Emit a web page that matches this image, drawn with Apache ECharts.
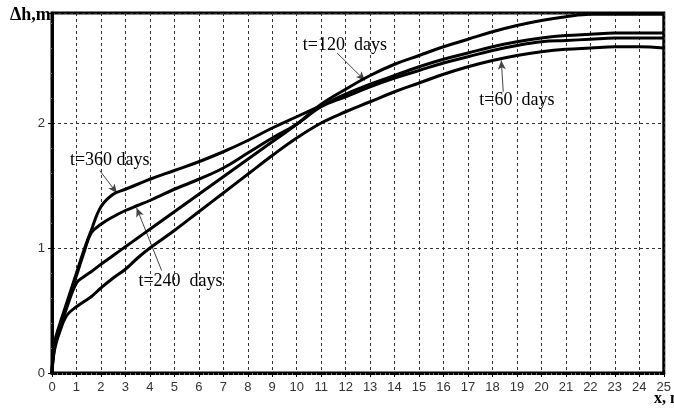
<!DOCTYPE html>
<html>
<head>
<meta charset="utf-8">
<script src="https://cdn.jsdelivr.net/npm/echarts@6/dist/echarts.min.js"></script>
<style>
html,body{margin:0;padding:0;background:#fff;}
#chart{width:674px;height:408px;}
</style>
</head>
<body>
<div id="chart"></div>
<script>
// distance along x (m)
const xValues = [0,0.1,0.3,0.6,1,1.3,1.6,2,2.5,3,3.5,4,5,6,7,8,9,10,11,12,13,14,15,16,17,18,19,20,21,22,23,24,25];
// Δh (m) for each time
const dh360 = [0,0.24,0.38,0.56,0.80,0.98,1.14,1.33,1.43,1.47,1.51,1.55,1.62,1.69,1.77,1.86,1.96,2.05,2.14,2.23,2.31,2.38,2.45,2.51,2.56,2.61,2.65,2.68,2.70,2.71,2.72,2.72,2.72];
const dh240 = [0,0.22,0.36,0.54,0.78,0.96,1.12,1.19,1.25,1.30,1.34,1.38,1.47,1.55,1.64,1.76,1.88,1.99,2.13,2.21,2.29,2.36,2.42,2.48,2.53,2.58,2.62,2.65,2.66,2.67,2.68,2.68,2.68];
const dh120 = [0,0.20,0.34,0.52,0.72,0.77,0.81,0.87,0.94,1.01,1.08,1.15,1.29,1.43,1.57,1.71,1.85,1.99,2.15,2.27,2.38,2.47,2.54,2.61,2.67,2.73,2.78,2.82,2.85,2.87,2.87,2.87,2.87];
const dh60  = [0,0.18,0.32,0.46,0.53,0.57,0.61,0.68,0.76,0.83,0.92,1.00,1.14,1.29,1.44,1.59,1.74,1.88,2.00,2.09,2.17,2.25,2.32,2.39,2.45,2.50,2.54,2.57,2.59,2.60,2.61,2.61,2.60];

// annotation labels and arrows (data coordinates)
const annotLabels = ['t=360 days','t=240  days','t=120  days','t=60  days'];
const annotTextPos = [[2.36,1.70],[5.25,0.73],[11.97,2.62],[19.0,2.18]];
const annotArrowFrom = [[1.95,1.62],[4.48,0.82],[11.65,2.56],[18.44,2.25]];
const annotArrowTo = [[2.65,1.44],[3.46,1.32],[12.79,2.34],[18.36,2.50]];

const xMin = 0, xMax = 25, yMin = 0, yMax = 2.88;

function pairs(ys){ return xValues.map((x,i)=>[x, ys[i]]); }

const lineStyle = {color:'#000', width:3};
function mkSeries(name, ys, extra){
  return Object.assign({
    name: name, type:'line', data: pairs(ys), showSymbol:false,
    smooth:0.4, lineStyle: lineStyle, itemStyle:{color:'#000'}, z:5
  }, extra||{});
}

const chart = echarts.init(document.getElementById('chart'), null, {renderer:'canvas'});
const axisCommon = {
  axisLine:{show:true, onZero:false, lineStyle:{color:'#000', width:3}},
  axisTick:{show:true, length:4, lineStyle:{color:'#000', width:1}},
  minorTick:{show:true, splitNumber:5, length:2, lineStyle:{color:'#777', width:1}},
  splitLine:{show:true, lineStyle:{color:'#333', width:1, type:[3,3]}},
  axisLabel:{color:'#333', fontSize:13, fontFamily:'Liberation Sans, Arial, sans-serif'}
};
chart.setOption({
  animation:false,
  backgroundColor:'#fff',
  grid:{left:52, right:8, top:13, bottom:35, show:true, borderColor:'#000', borderWidth:3, backgroundColor:'transparent'},
  xAxis: Object.assign({}, axisCommon, {
    type:'value', min:xMin, max:xMax, interval:1,
    axisLabel: Object.assign({}, axisCommon.axisLabel, {margin:8})
  }),
  yAxis: Object.assign({}, axisCommon, {
    type:'value', min:yMin, max:yMax, interval:1,
    axisLabel: Object.assign({}, axisCommon.axisLabel, {margin:7, showMaxLabel:false})
  }),
  series:[
    mkSeries('t=360 days', dh360, {
      markLine:{
        silent:true, symbol:['none','arrow'], symbolSize:[6,9],
        lineStyle:{color:'#444', width:1, type:'solid'}, label:{show:false},
        data: annotArrowFrom.map((f,i)=>[{coord:f},{coord:annotArrowTo[i]}])
      },
      markPoint:{
        silent:true, symbol:'circle', symbolSize:0,
        label:{show:true, position:'inside', formatter:'{b}', color:'#000', fontSize:18, fontFamily:'Liberation Serif, Times New Roman, serif'},
        data: annotLabels.map((t,i)=>({name:t, coord:annotTextPos[i]}))
      }
    }),
    mkSeries('t=240 days', dh240),
    mkSeries('t=120 days', dh120),
    mkSeries('t=60 days', dh60)
  ],
  graphic:[
    {type:'text', left:10, top:6, style:{text:'Δh,m', font:'bold 18px "Liberation Serif", serif', fill:'#000'}},
    {type:'text', left:654, top:391, style:{text:'x, m', font:'bold 16px "Liberation Serif", serif', fill:'#000'}}
  ]
});
</script>
</body>
</html>
